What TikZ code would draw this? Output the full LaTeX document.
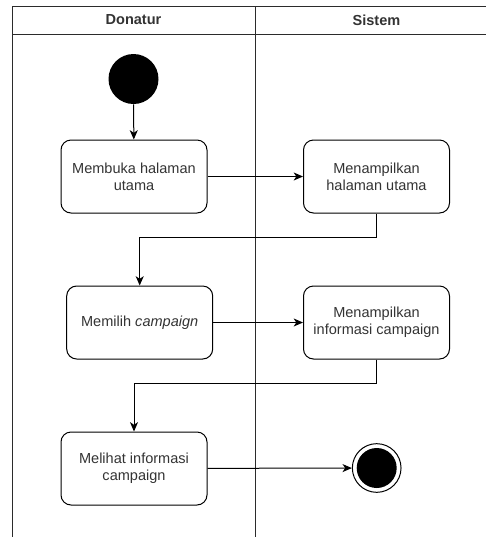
\documentclass[tikz,border=0pt]{standalone}
\usepackage{fontspec}
\setmainfont{Liberation Sans}
\usetikzlibrary{arrows.meta}
\definecolor{txt}{HTML}{333333}
\definecolor{lane}{HTML}{2B2B2B}
\begin{document}
\begin{tikzpicture}[x=0.75pt,y=-0.75pt,
  every node/.style={font=\fontsize{10.9pt}{13pt}\selectfont, text=txt},
  actbox/.style={draw=black, line width=0.75pt, rounded corners=7.5pt,
    minimum width=109.5pt, minimum height=54.75pt, align=center, inner sep=2pt},
  flow/.style={draw=black, line width=0.75pt,
    -{Stealth[length=7pt,width=6pt,inset=2pt]}},
  lanel/.style={draw=lane, line width=0.75pt},
  hdr/.style={font=\bfseries\fontsize{10.9pt}{13pt}\selectfont}]
\useasboundingbox (0,0) rectangle (486,537);

% swimlane frame
\draw[lanel] (12,537) -- (12,6) -- (486,6);
\draw[lanel] (12,34) -- (486,34);
\draw[lanel] (255,6) -- (255,537);
\node[hdr] (hd) at (133.5,20) {Donatur};
\node[hdr] (hs) at (376.5,20) {Sistem};

% activities
\node[circle, fill=black, minimum size=37.5pt, inner sep=0pt] (start) at (133.5,79) {};
\node[actbox] (b1) at (134,176.5) {Membuka halaman\\utama};
\node[actbox] (b2) at (376.5,176.5) {Menampilkan\\halaman utama};
\node[actbox] (b3) at (139.7,322.5) {Memilih \textit{campaign}};
\node[actbox] (b4) at (376.5,322.5) {Menampilkan\\informasi campaign};
\node[actbox] (b5) at (134,468.5) {Melihat informasi\\campaign};
\node[circle, draw=black, line width=0.75pt, minimum size=36.5pt, inner sep=0pt,
  path picture={\fill[black] (path picture bounding box.center) circle (15pt);}]
  (end) at (376.7,468) {};

% control flow
\draw[flow] (start) -- (b1);
\draw[flow] (b1) -- (b2);
\draw[flow] (b2.south) -- ++(0,24) -| (b3.north);
\draw[flow] (b3) -- (b4);
\draw[flow] (b4.south) -- ++(0,24) -| (b5.north);
\draw[flow] (b5) -- (end);
\end{tikzpicture}
\end{document}
